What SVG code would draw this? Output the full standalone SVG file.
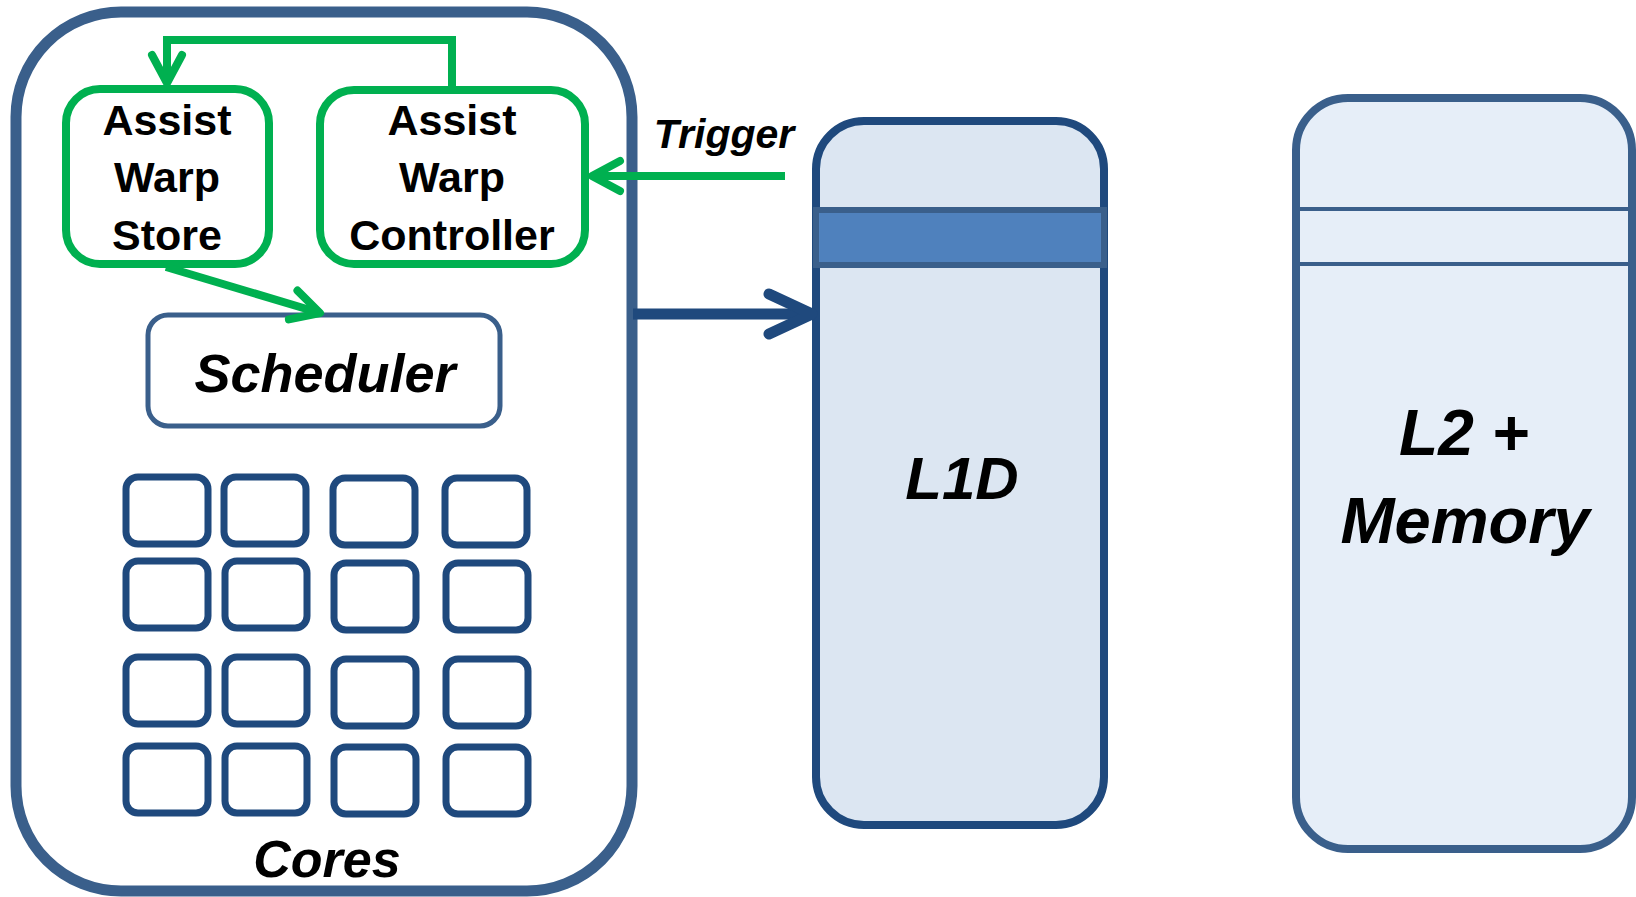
<svg xmlns="http://www.w3.org/2000/svg" width="1636" height="897" viewBox="0 0 1636 897">
<style>
.lbl{font-family:"Liberation Sans",Arial,sans-serif;font-weight:bold;fill:#000;text-anchor:middle}
.it{font-style:italic}
.green{fill:#fff;stroke:#00B050;stroke-width:8}
.core{fill:#fff;stroke:#1F497D;stroke-width:7}
.gline{fill:none;stroke:#00B050;stroke-width:8;stroke-linejoin:miter}
</style>
<defs>
<marker id="ga" markerUnits="userSpaceOnUse" markerWidth="60" markerHeight="60" viewBox="-40 -30 50 60" refX="0" refY="0" orient="auto" overflow="visible">
<path d="M-28,-15 L0,0 L-28,15" fill="none" stroke="#00B050" stroke-width="8" stroke-linecap="round" stroke-linejoin="round"/>
</marker>
<marker id="ba" markerUnits="userSpaceOnUse" markerWidth="80" markerHeight="80" viewBox="-60 -40 70 80" refX="0" refY="0" orient="auto" overflow="visible">
<path d="M-43,-20 L0,0 L-43,20" fill="none" stroke="#1F497D" stroke-width="11" stroke-linecap="round" stroke-linejoin="round"/>
</marker>
</defs>
<rect width="1636" height="897" fill="#fff"/>

<g id="cores-box">
<rect x="16" y="12" width="616" height="879" rx="105" ry="105" fill="#fff" stroke="#3A5F8B" stroke-width="11"/>
<text class="lbl it" x="327" y="877" font-size="52">Cores</text>
</g>

<g id="assist-warp-store">
<rect class="green" x="66" y="89" width="203" height="175" rx="34"/>
<text class="lbl" x="167" y="135" font-size="43">Assist</text>
<text class="lbl" x="167" y="192" font-size="43">Warp</text>
<text class="lbl" x="167" y="250" font-size="43">Store</text>
</g>

<g id="assist-warp-controller">
<rect class="green" x="320" y="90" width="265" height="174" rx="34"/>
<text class="lbl" x="452" y="135" font-size="43">Assist</text>
<text class="lbl" x="452" y="192" font-size="43">Warp</text>
<text class="lbl" x="452" y="250" font-size="43">Controller</text>
</g>

<g id="scheduler">
<rect x="148" y="315" width="352" height="111" rx="20" fill="#fff" stroke="#3A5F8B" stroke-width="5"/>
<text class="lbl it" x="325" y="392" font-size="54">Scheduler</text>
</g>

<g id="core-grid">
<rect class="core" x="126" y="477" width="82" height="67" rx="12"/>
<rect class="core" x="224" y="477" width="82" height="67" rx="12"/>
<rect class="core" x="333" y="478" width="82" height="67" rx="12"/>
<rect class="core" x="445" y="478" width="82" height="67" rx="12"/>
<rect class="core" x="126" y="561" width="82" height="67" rx="12"/>
<rect class="core" x="225" y="561" width="82" height="67" rx="12"/>
<rect class="core" x="334" y="563" width="82" height="67" rx="12"/>
<rect class="core" x="446" y="563" width="82" height="67" rx="12"/>
<rect class="core" x="126" y="657" width="82" height="67" rx="12"/>
<rect class="core" x="225" y="657" width="82" height="67" rx="12"/>
<rect class="core" x="334" y="659" width="82" height="67" rx="12"/>
<rect class="core" x="446" y="659" width="82" height="67" rx="12"/>
<rect class="core" x="126" y="746" width="82" height="67" rx="12"/>
<rect class="core" x="225" y="746" width="82" height="67" rx="12"/>
<rect class="core" x="334" y="747" width="82" height="67" rx="12"/>
<rect class="core" x="446" y="747" width="82" height="67" rx="12"/>
</g>

<g id="l1d">
<rect x="816" y="121" width="288" height="704" rx="48" fill="#DCE6F2" stroke="#1F497D" stroke-width="8"/>
<rect x="816" y="210" width="288" height="55" fill="#4F81BD" stroke="#3A5F8B" stroke-width="6"/>
<text class="lbl it" x="962" y="499" font-size="60">L1D</text>
</g>

<g id="l2-memory">
<rect x="1296" y="98" width="336" height="751" rx="52" fill="#E6EEF8" stroke="#3A5F8B" stroke-width="8"/>
<line x1="1296" y1="209" x2="1632" y2="209" stroke="#3A5F8B" stroke-width="4"/>
<line x1="1296" y1="264" x2="1632" y2="264" stroke="#3A5F8B" stroke-width="4"/>
<text class="lbl it" x="1464" y="455" font-size="64">L2 +</text>
<text class="lbl it" x="1465" y="543" font-size="65">Memory</text>
</g>

<g id="connectors">
<path class="gline" d="M452,86 V40 H167 V83" marker-end="url(#ga)"/>
<line class="gline" x1="166" y1="267" x2="320" y2="313" marker-end="url(#ga)"/>
<line class="gline" x1="785" y1="176" x2="592" y2="176" marker-end="url(#ga)"/>
<text class="lbl it" x="724" y="148" font-size="41">Trigger</text>
<line x1="633" y1="314" x2="812" y2="314" stroke="#1F497D" stroke-width="11" marker-end="url(#ba)"/>
</g>
</svg>
